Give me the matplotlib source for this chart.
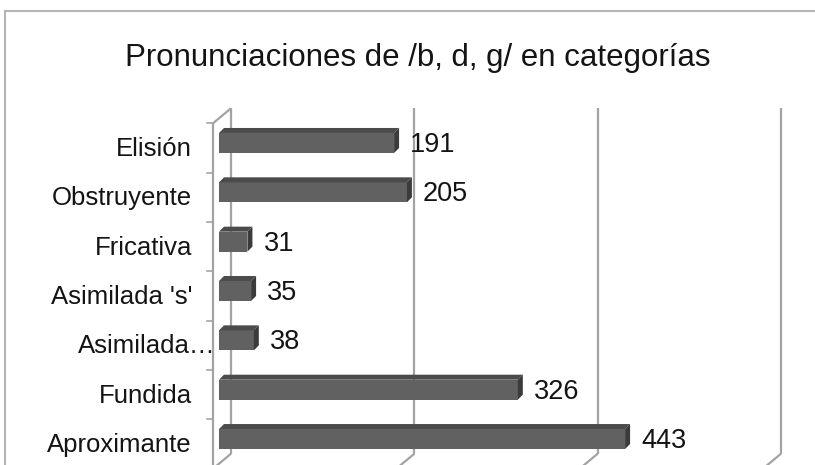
import matplotlib
matplotlib.use("Agg")
import matplotlib.pyplot as plt
from matplotlib.transforms import ScaledTranslation, IdentityTransform
from matplotlib.patches import Polygon
from matplotlib.lines import Line2D

plt.rcParams['font.family'] = ['Liberation Sans', 'DejaVu Sans']

title = "Pronunciaciones de /b, d, g/ en categorías"
categories = ['Aproximante', 'Fundida', 'Asimilada…', "Asimilada 's'",
              'Fricativa', 'Obstruyente', 'Elisión']
values = [443, 326, 38, 35, 31, 205, 191]
x_ticks = [0, 200, 400, 600]

W, H = 815, 465
DPI = 100
fig = plt.figure(figsize=(W / DPI, H / DPI), dpi=DPI)

# axes = plane through the front faces of the bars (pixels measured from top)
top_px, bot_px, left_px, width_px = 118.3, 463.7, 219, 550
ax = fig.add_axes([left_px / W, (H - bot_px) / H, width_px / W, (bot_px - top_px) / H])
ax.set_xlim(0, 600)
ax.set_ylim(-0.5, len(categories) - 0.5)
ax.axis('off')


def shifted(dx, dy, base=None):
    # dx right, dy up, in pixels
    base = ax.transData if base is None else base
    return base + ScaledTranslation(dx / DPI, dy / DPI, fig.dpi_scale_trans)


back = shifted(12, 10)
front = shifted(-6, -5)
grid_color = '#a3a3a3'
grid_kw = dict(color=grid_color, lw=1.6, clip_on=False, solid_capstyle='butt')
y_lo, y_hi = -0.5, len(categories) - 0.5


def pix_line(p, q, **kw):
    ax.add_line(Line2D([p[0], q[0]], [p[1], q[1]], transform=IdentityTransform(), **kw))


fig.canvas.draw()

# back wall gridlines and floor diagonals
for v in x_ticks:
    ax.plot([v, v], [y_lo, y_hi], transform=back, **grid_kw)
    pix_line(back.transform((v, y_lo)), front.transform((v, y_lo)), **grid_kw)

# left wall
ax.plot([0, 0], [y_lo, y_hi], transform=front, **grid_kw)
pix_line(front.transform((0, y_hi)), back.transform((0, y_hi)), **grid_kw)
for i in range(len(categories) + 1):
    p = front.transform((0, y_lo + i))
    pix_line((p[0] - 6, p[1]), p, color=grid_color, lw=1.2, clip_on=False)

# 3D bars
h = 0.405
depth = 5
ypos = list(range(len(categories)))
ax.barh(ypos, values, height=h, color='#616161', edgecolor='none', zorder=3)
for y, v in zip(ypos, values):
    tl = ax.transData.transform((0, y + h / 2))
    tr = ax.transData.transform((v, y + h / 2))
    br = ax.transData.transform((v, y - h / 2))
    top_face = [tl, tr, tr + depth, tl + depth]
    side_face = [br, tr, tr + depth, br + depth]
    ax.add_patch(Polygon(top_face, closed=True, transform=IdentityTransform(),
                         facecolor='#4b4b4b', edgecolor='none', zorder=3, clip_on=False))
    ax.add_patch(Polygon(side_face, closed=True, transform=IdentityTransform(),
                         facecolor='#3b3b3b', edgecolor='none', zorder=3, clip_on=False))
    ax.text(v, y, str(v), transform=shifted(16, -2), ha='left', va='center',
            fontsize=19.5, color='#141414', zorder=4)

# category labels
for y, name in zip(ypos, categories):
    dx = 3 if name.endswith('…') else -21
    ax.text(0, y, name, transform=shifted(dx, -1, front),
            ha='right', va='center', fontsize=18.5, color='#141414')

fig.text(417.5 / W, 1 - 58 / H, title, ha='center', va='center', fontsize=22.5, color='#141414')

# chart area border (top and left edges visible)
border = dict(color='#b5b5b5', lw=1.5, transform=fig.transFigure)
fig.add_artist(Line2D([5 / W, 1], [1 - 11 / H, 1 - 11 / H], **border))
fig.add_artist(Line2D([5 / W, 5 / W], [0, 1 - 11 / H], **border))

fig.savefig('out.png', dpi=DPI)
